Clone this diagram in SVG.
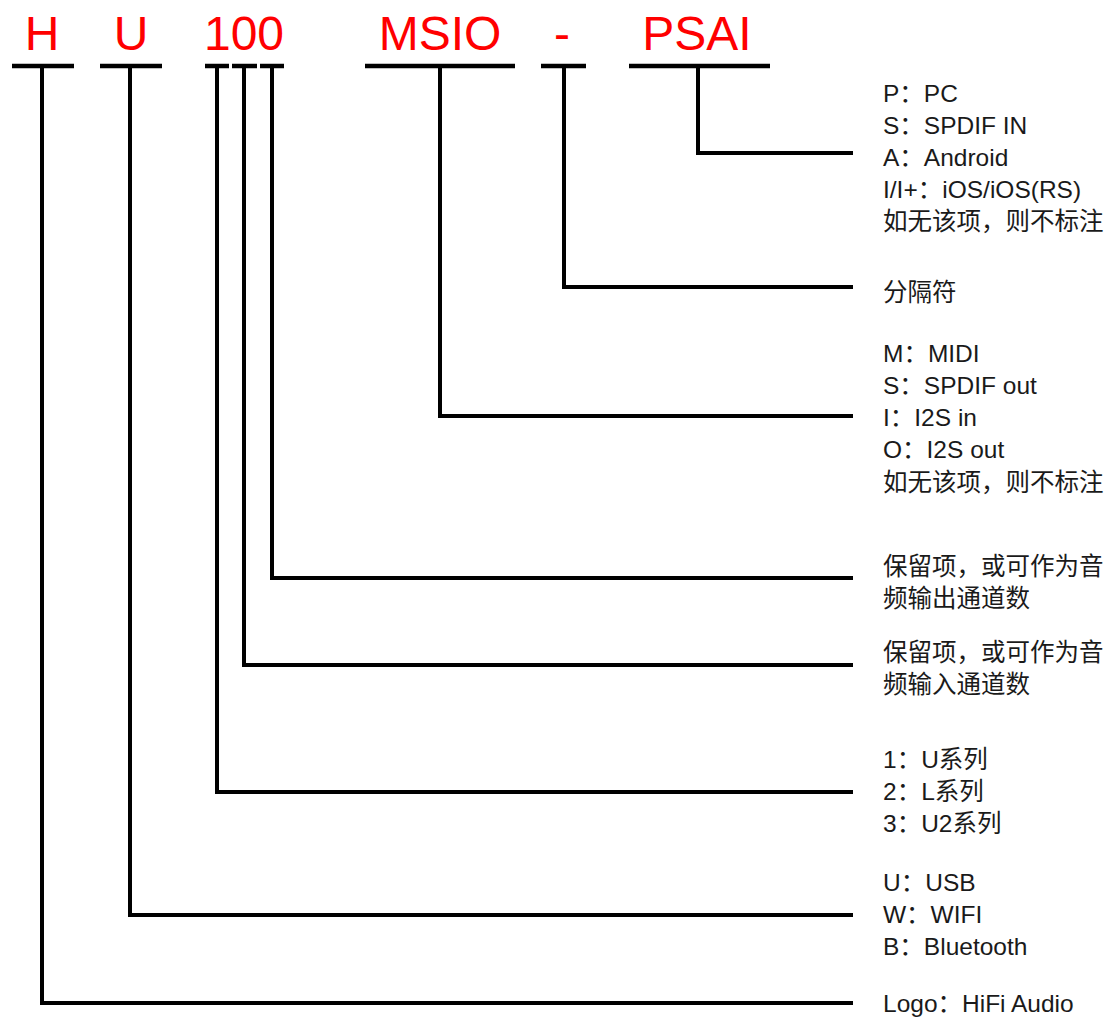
<svg xmlns="http://www.w3.org/2000/svg" width="1109" height="1018" viewBox="0 0 1109 1018">
<style>
.code{font-family:"Liberation Sans","Noto Sans CJK SC",sans-serif;font-size:48px;fill:#ff0000;text-anchor:middle}
.desc{font-family:"Liberation Sans","Noto Sans CJK SC",sans-serif;font-size:24.5px;fill:#1a1a1a}
.bar{stroke:#000;stroke-width:4.5;fill:none}
.conn{stroke:#000;stroke-width:4;fill:none;stroke-linejoin:miter}
</style>
<rect width="1109" height="1018" fill="#fff"/>
<g id="codes">
<g id="code-H"><text class="code" x="42" y="50">H</text><line class="bar" x1="12" y1="66" x2="74" y2="66"/></g>
<g id="code-U"><text class="code" x="131" y="50">U</text><line class="bar" x1="100" y1="66" x2="162" y2="66"/></g>
<g id="code-100"><text class="code" x="244" y="50">100</text>
<line class="bar" x1="205" y1="66" x2="229" y2="66"/>
<line class="bar" x1="232" y1="66" x2="257" y2="66"/>
<line class="bar" x1="260" y1="66" x2="284" y2="66"/></g>
<g id="code-MSIO"><text class="code" x="440" y="50">MSIO</text><line class="bar" x1="365" y1="66" x2="515" y2="66"/></g>
<g id="code-dash"><text class="code" x="562" y="50">-</text><line class="bar" x1="541" y1="66" x2="586" y2="66"/></g>
<g id="code-PSAI"><text class="code" x="697" y="50">PSAI</text><line class="bar" x1="629" y1="66" x2="770" y2="66"/></g>
</g>
<g id="connectors">
<polyline class="conn" points="42,66 42,1003 853,1003"/>
<polyline class="conn" points="130,66 130,915 853,915"/>
<polyline class="conn" points="217,66 217,792 853,792"/>
<polyline class="conn" points="244,66 244,665 853,665"/>
<polyline class="conn" points="272,66 272,578 853,578"/>
<polyline class="conn" points="440,66 440,416 853,416"/>
<polyline class="conn" points="564,66 564,287 853,287"/>
<polyline class="conn" points="698,66 698,153 853,153"/>
</g>
<g id="desc-PSAI" class="desc">
<text x="883" y="102">P：PC</text>
<text x="883" y="134">S：SPDIF IN</text>
<text x="883" y="166">A：Android</text>
<text x="883" y="198">I/I+：iOS/iOS(RS)</text>
<text x="883" y="230">如无该项，则不标注</text>
</g>
<g id="desc-dash" class="desc"><text x="883" y="301">分隔符</text></g>
<g id="desc-MSIO" class="desc">
<text x="883" y="362">M：MIDI</text>
<text x="883" y="394">S：SPDIF out</text>
<text x="883" y="426">I：I2S in</text>
<text x="883" y="458">O：I2S out</text>
<text x="883" y="491">如无该项，则不标注</text>
</g>
<g id="desc-out" class="desc">
<text x="883" y="575">保留项，或可作为音</text>
<text x="883" y="607">频输出通道数</text>
</g>
<g id="desc-in" class="desc">
<text x="883" y="661">保留项，或可作为音</text>
<text x="883" y="693">频输入通道数</text>
</g>
<g id="desc-series" class="desc">
<text x="883" y="768">1：U系列</text>
<text x="883" y="800">2：L系列</text>
<text x="883" y="832">3：U2系列</text>
</g>
<g id="desc-U" class="desc">
<text x="883" y="891">U：USB</text>
<text x="883" y="923">W：WIFI</text>
<text x="883" y="955">B：Bluetooth</text>
</g>
<g id="desc-H" class="desc"><text x="883" y="1012">Logo：HiFi Audio</text></g>
</svg>
